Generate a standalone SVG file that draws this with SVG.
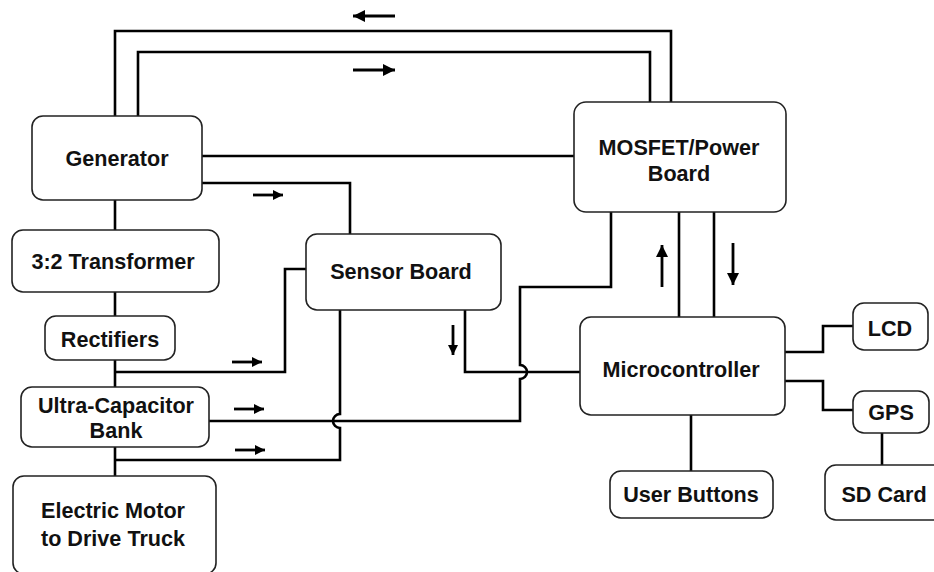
<svg xmlns="http://www.w3.org/2000/svg" width="934" height="572" viewBox="0 0 934 572">
<defs>
<style>
.box{fill:#fff;stroke:#222;stroke-width:1.6}
.t{font-family:"Liberation Sans",Arial,sans-serif;font-weight:bold;font-size:21.6px;fill:#111;text-anchor:middle}
.w{fill:none;stroke:#000;stroke-width:2.6}
.a{fill:none;stroke:#000;stroke-width:2.8}
</style>
<marker id="hb" markerUnits="userSpaceOnUse" markerWidth="14" markerHeight="14" refX="12" refY="7" orient="auto"><path d="M0,1 L12,7 L0,13 Z" fill="#000"/></marker>
<marker id="hs" markerUnits="userSpaceOnUse" markerWidth="11" markerHeight="11" refX="10" refY="5.5" orient="auto"><path d="M0,0.5 L10,5.5 L0,10.5 Z" fill="#000"/></marker>
</defs>
<rect width="934" height="572" fill="#fff"/>
<g id="connectors">
<path class="w" d="M115,116 V31 H671 V102"/>
<path class="w" d="M138,116 V52 H650 V102"/>
<path class="w" d="M202,156 H574"/>
<path class="w" d="M202,183 H350 V234"/>
<path class="w" d="M115,200 V230"/>
<path class="w" d="M115,292 V316"/>
<path class="w" d="M115,360 V387"/>
<path class="w" d="M115,372 H285 V269 H306"/>
<path class="w" d="M115,447 V476"/>
<path class="w" d="M340,310 V414 A7,7 0 0 0 340,428 V460 H115"/>
<path class="w" d="M209,421 H520 V379 A7,7 0 0 0 520,365 V287 H611 V212"/>
<path class="w" d="M465,310 V372 H580"/>
<path class="w" d="M679,212 V317"/>
<path class="w" d="M714,212 V317"/>
<path class="w" d="M691,415 V471"/>
<path class="w" d="M785,352 H823 V326 H853"/>
<path class="w" d="M785,381 H823 V410 H853"/>
<path class="w" d="M882,433 V465"/>
<path class="a" d="M395,16 H353" marker-end="url(#hb)"/>
<path class="a" d="M353,70 H395" marker-end="url(#hb)"/>
<path class="a" d="M253,195 H283" marker-end="url(#hs)"/>
<path class="a" d="M232,362 H262" marker-end="url(#hs)"/>
<path class="a" d="M234,409 H264" marker-end="url(#hs)"/>
<path class="a" d="M235,450 H265" marker-end="url(#hs)"/>
<path class="a" d="M453,325 V355" marker-end="url(#hs)"/>
<path class="a" d="M662,287 V245" marker-end="url(#hb)"/>
<path class="a" d="M733,243 V285" marker-end="url(#hb)"/>
</g>
<g id="generator"><rect class="box" x="32" y="116" width="170" height="84" rx="11"/><text class="t" x="117" y="166">Generator</text></g>
<g id="transformer"><rect class="box" x="12" y="230" width="207" height="62" rx="11"/><text class="t" x="113" y="269">3:2 Transformer</text></g>
<g id="rectifiers"><rect class="box" x="45" y="316" width="130" height="44" rx="11"/><text class="t" x="110" y="347">Rectifiers</text></g>
<g id="ultracap"><rect class="box" x="21" y="387" width="188" height="60" rx="11"/><text class="t" x="116" y="413">Ultra-Capacitor</text><text class="t" x="116" y="438">Bank</text></g>
<g id="motor"><rect class="box" x="13" y="476" width="203" height="98" rx="11"/><text class="t" x="113" y="518">Electric Motor</text><text class="t" x="113" y="546">to Drive Truck</text></g>
<g id="sensor"><rect class="box" x="306" y="234" width="195" height="76" rx="11"/><text class="t" x="401" y="279">Sensor Board</text></g>
<g id="mosfet"><rect class="box" x="574" y="102" width="212" height="110" rx="12"/><text class="t" x="679" y="155">MOSFET/Power</text><text class="t" x="679" y="181">Board</text></g>
<g id="micro"><rect class="box" x="580" y="317" width="205" height="98" rx="11"/><text class="t" x="681" y="377">Microcontroller</text></g>
<g id="lcd"><rect class="box" x="853" y="303" width="75" height="47" rx="11"/><text class="t" x="890" y="336">LCD</text></g>
<g id="gps"><rect class="box" x="853" y="391" width="76" height="42" rx="11"/><text class="t" x="891" y="420">GPS</text></g>
<g id="buttons"><rect class="box" x="610" y="471" width="163" height="47" rx="11"/><text class="t" x="691" y="502">User Buttons</text></g>
<g id="sdcard"><rect class="box" x="825" y="465" width="120" height="55" rx="11"/><text class="t" x="884" y="502">SD Card</text></g>
</svg>
